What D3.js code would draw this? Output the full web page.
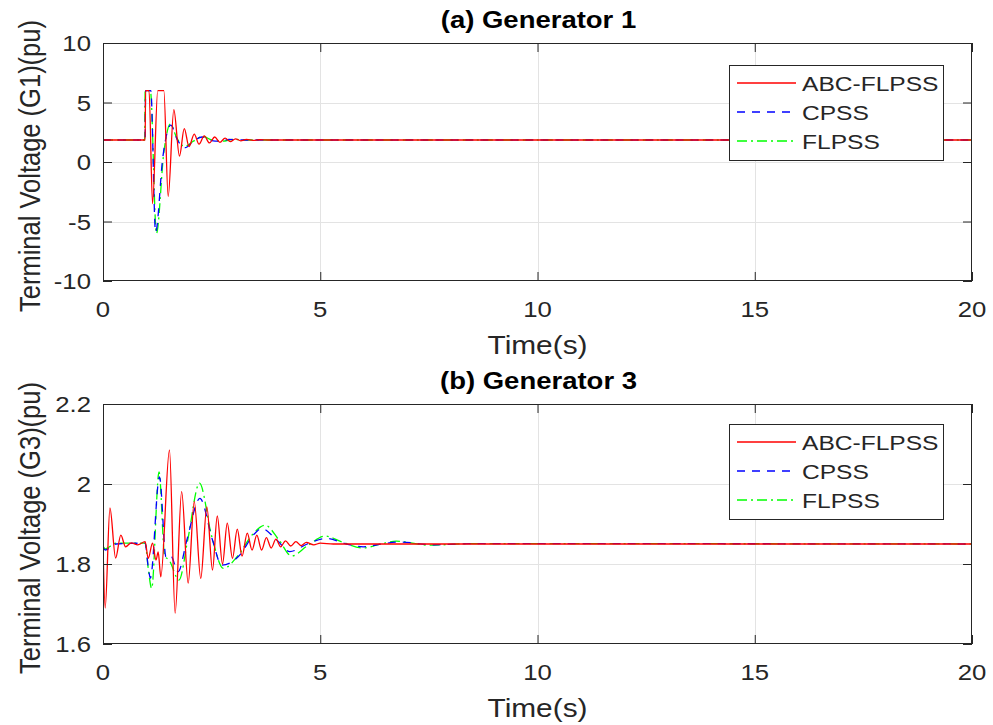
<!DOCTYPE html>
<html>
<head>
<meta charset="utf-8">
<script src="https://cdn.jsdelivr.net/npm/d3@7/dist/d3.min.js"></script>
<style>
  html, body { margin: 0; padding: 0; background: #fff; }
  svg { display: block; }
</style>
</head>
<body>
<svg id="chart" width="993" height="725"></svg>
<script>
const fontFamily = `"Liberation Sans", Arial, Helvetica, sans-serif`;
const width = 993;
const height = 725;
const textStretch = 1.17;
const axisColor = "#262626";
const gridColor = "#e3e3e3";

// ---- data (time in s, terminal voltage in pu) ----
const xTicks = [0, 5, 10, 15, 20];
const g1Ticks = [-10, -5, 0, 5, 10];
const g3Ticks = [1.6, 1.8, 2, 2.2];

const seriesNames = ["ABC-FLPSS", "CPSS", "FLPSS"];

const g1Abc = [
  [0, 1.85], [0.97, 1.85], [0.98, 6], [1.06, 6], [1.14, -3.5], [1.26, 6],
  [1.4, 6], [1.5, -2.9], [1.63, 4.4], [1.76, 0.5], [1.87, 2.8], [1.98, 1.3],
  [2.1, 2.35], [2.21, 1.5], [2.33, 2.2], [2.45, 1.6], [2.57, 2.1], [2.69, 1.65],
  [2.81, 2.0], [2.93, 1.72], [3.05, 1.95], [3.17, 1.78], [3.3, 1.9],
  [3.45, 1.82], [3.6, 1.87], [3.8, 1.85], [20, 1.85],
];
const g1Cpss = [
  [0, 1.85], [0.97, 1.85], [0.98, 6], [1.1, 6], [1.21, -5.9], [1.38, 0.5],
  [1.56, 3.1], [1.72, 1.8], [1.89, 1.2], [2.1, 1.8], [2.28, 2.1], [2.5, 1.8],
  [2.7, 1.75], [2.9, 1.9], [3.2, 1.85], [20, 1.85],
];
const g1Flpss = [
  [0, 1.85], [0.96, 1.85], [0.97, 6], [1.09, 6], [1.23, -6.0], [1.4, 0.8],
  [1.55, 3.2], [1.7, 2.0], [1.88, 1.3], [2.08, 1.75], [2.3, 2.15], [2.5, 1.85],
  [2.75, 1.75], [3.0, 1.9], [3.3, 1.85], [20, 1.85],
];

const g3Abc = [
  [0, 1.85], [0.05, 1.69], [0.16, 1.94], [0.29, 1.815], [0.41, 1.872],
  [0.52, 1.843], [0.65, 1.853], [0.8, 1.848], [0.97, 1.856], [1.04, 1.814],
  [1.14, 1.852], [1.22, 1.81], [1.27, 1.83], [1.33, 1.768], [1.53, 2.085],
  [1.66, 1.677], [1.81, 1.981], [1.96, 1.752], [2.1, 1.956], [2.25, 1.764],
  [2.39, 1.943], [2.52, 1.785], [2.63, 1.92], [2.75, 1.8], [2.86, 1.902],
  [2.98, 1.814], [3.09, 1.887], [3.2, 1.82], [3.32, 1.877], [3.43, 1.835],
  [3.54, 1.872], [3.65, 1.835], [3.76, 1.866], [3.87, 1.84], [3.98, 1.862],
  [4.09, 1.843], [4.2, 1.858], [4.32, 1.845], [4.44, 1.856], [4.56, 1.846],
  [4.68, 1.854], [4.85, 1.848], [5.0, 1.852], [5.3, 1.85], [20, 1.85],
];
const g3Cpss = [
  [0, 1.843], [0.05, 1.835], [0.3, 1.85], [0.97, 1.852], [1.04, 1.793],
  [1.09, 1.765], [1.3, 2.018], [1.45, 1.818], [1.55, 1.822], [1.73, 1.781],
  [1.93, 1.86], [2.23, 1.964], [2.52, 1.86], [2.73, 1.797], [3.11, 1.818],
  [3.5, 1.877], [3.65, 1.889], [4.0, 1.86], [4.3, 1.831], [4.7, 1.85],
  [5.15, 1.864], [5.6, 1.85], [5.99, 1.843], [6.4, 1.85], [6.84, 1.855],
  [7.6, 1.848], [8.5, 1.851], [20, 1.85],
];
const g3Flpss = [
  [0, 1.845], [0.05, 1.838], [0.3, 1.852], [0.97, 1.852], [1.04, 1.79],
  [1.12, 1.739], [1.29, 2.03], [1.42, 1.82], [1.52, 1.81], [1.75, 1.76],
  [1.95, 1.86], [2.22, 2.002], [2.5, 1.87], [2.77, 1.789], [3.1, 1.82],
  [3.45, 1.875], [3.73, 1.897], [4.05, 1.86], [4.34, 1.82], [4.7, 1.845],
  [5.11, 1.87], [5.5, 1.855], [5.99, 1.84], [6.4, 1.85], [6.75, 1.857],
  [7.5, 1.847], [8.5, 1.851], [20, 1.85],
];

const seriesStyles = [
  { color: "#ff0000", dash: null },
  { color: "#0000ff", dash: "8,7" },
  { color: "#00ff00", dash: "10,4,2,4" },
];

const panels = [
  {
    title: "(a) Generator 1",
    ylabel: "Terminal Voltage (G1)(pu)",
    top: 43, bottom: 281,
    yDomain: [-10, 10], yTicks: g1Ticks,
    series: [g1Abc, g1Cpss, g1Flpss],
    legendTop: 65,
  },
  {
    title: "(b) Generator 3",
    ylabel: "Terminal Voltage (G3)(pu)",
    top: 404, bottom: 644,
    yDomain: [1.6, 2.2], yTicks: g3Ticks,
    series: [g3Abc, g3Cpss, g3Flpss],
    legendTop: 424,
  },
];

const left = 103;
const right = 972;

const svg = d3.select("#chart")
  .attr("font-family", fontFamily);

svg.append("rect")
  .attr("width", width)
  .attr("height", height)
  .attr("fill", "#fff");

const x = d3.scaleLinear().domain([0, 20]).range([left, right]);

panels.forEach((p, i) => renderPanel(p, i));

function stretched(sel, tx, ty, rotate) {
  sel.attr("transform", `translate(${tx},${ty}) scale(${textStretch},1)` +
    (rotate ? ` rotate(${rotate})` : ""));
  return sel;
}

function renderPanel(p, i) {
  const y = d3.scaleLinear().domain(p.yDomain).range([p.bottom, p.top]);
  const g = svg.append("g").attr("id", `panel-${i}`);
  const clipId = `clip-${i}`;

  g.append("clipPath")
    .attr("id", clipId)
    .append("rect")
    .attr("x", left)
    .attr("y", p.top)
    .attr("width", right - left)
    .attr("height", p.bottom - p.top);

  // grid
  const grid = g.append("g").attr("stroke", gridColor).attr("stroke-width", 1);
  grid.selectAll(".gx")
    .data(xTicks.slice(1, -1))
    .enter()
    .append("line")
    .attr("x1", (d) => Math.round(x(d)) + 0.5)
    .attr("x2", (d) => Math.round(x(d)) + 0.5)
    .attr("y1", p.top)
    .attr("y2", p.bottom);
  grid.selectAll(".gy")
    .data(p.yTicks.slice(1, -1))
    .enter()
    .append("line")
    .attr("x1", left)
    .attr("x2", right)
    .attr("y1", (d) => Math.round(y(d)) + 0.5)
    .attr("y2", (d) => Math.round(y(d)) + 0.5);

  // lines
  const line = d3.line()
    .x((d) => x(d[0]))
    .y((d) => y(d[1]))
    .curve(d3.curveMonotoneX);

  const lines = g.append("g").attr("clip-path", `url(#${clipId})`);
  p.series.slice().reverse().forEach((data, k) => {
    const s = seriesStyles[p.series.length - 1 - k];
    lines.append("path")
      .datum(data)
      .attr("fill", "none")
      .attr("stroke", s.color)
      .attr("stroke-width", 1.3)
      .attr("stroke-dasharray", s.dash)
      .attr("d", line);
  });

  // axes (ticks inward, on all four sides)
  const tickLen = 9;
  const axisStyle = (sel) => {
    sel.select(".domain").remove();
    sel.selectAll(".tick line").attr("stroke", axisColor);
    sel.selectAll(".tick text").remove();
  };
  g.append("g")
    .attr("transform", `translate(0,${p.bottom})`)
    .call(d3.axisBottom(x).tickValues(xTicks).tickSize(-tickLen))
    .call(axisStyle);
  g.append("g")
    .attr("transform", `translate(0,${p.top})`)
    .call(d3.axisTop(x).tickValues(xTicks).tickSize(-tickLen))
    .call(axisStyle);
  g.append("g")
    .attr("transform", `translate(${left},0)`)
    .call(d3.axisLeft(y).tickValues(p.yTicks).tickSize(-tickLen))
    .call(axisStyle);
  g.append("g")
    .attr("transform", `translate(${right},0)`)
    .call(d3.axisRight(y).tickValues(p.yTicks).tickSize(-tickLen))
    .call(axisStyle);

  g.append("rect")
    .attr("x", left + 0.5)
    .attr("y", p.top + 0.5)
    .attr("width", right - left - 1)
    .attr("height", p.bottom - p.top - 1)
    .attr("fill", "none")
    .attr("stroke", axisColor)
    .attr("stroke-width", 1);

  // tick labels
  const labels = g.append("g")
    .attr("fill", axisColor)
    .attr("font-size", 22);
  labels.selectAll(".xl")
    .data(xTicks)
    .enter()
    .append("text")
    .attr("text-anchor", "middle")
    .each(function (d) {
      stretched(d3.select(this), x(d), p.bottom + 36);
    })
    .text((d) => d);
  labels.selectAll(".yl")
    .data(p.yTicks)
    .enter()
    .append("text")
    .attr("text-anchor", "end")
    .each(function (d) {
      stretched(d3.select(this), left - 12, y(d) + 8);
    })
    .text((d) => (Number.isInteger(d) ? d : d.toFixed(1)));

  // axis titles
  stretched(
    g.append("text")
      .attr("text-anchor", "middle")
      .attr("fill", axisColor)
      .attr("font-size", 25.5)
      .text("Time(s)"),
    (left + right) / 2, p.bottom + 73);

  stretched(
    g.append("text")
      .attr("text-anchor", "middle")
      .attr("fill", axisColor)
      .attr("font-size", 25.5)
      .text(p.ylabel),
    40, (p.top + p.bottom) / 2 + 4, -90);

  stretched(
    g.append("text")
      .attr("text-anchor", "middle")
      .attr("fill", "#000")
      .attr("font-weight", "bold")
      .attr("font-size", 23.5)
      .text(p.title),
    (left + right) / 2 + 1, p.top - 15);

  renderLegend(g, p.legendTop);
}

function renderLegend(g, top) {
  const lx = 729;
  const lw = 214;
  const lh = 95;
  const legend = g.append("g").attr("id", "legend");

  legend.append("rect")
    .attr("x", lx + 0.5)
    .attr("y", top + 0.5)
    .attr("width", lw)
    .attr("height", lh)
    .attr("fill", "#fff")
    .attr("stroke", axisColor)
    .attr("stroke-width", 1);

  const rowY = [18, 47, 76];
  const rows = legend.selectAll(".legend-row")
    .data(seriesNames)
    .enter()
    .append("g")
    .classed("legend-row", true)
    .attr("transform", (d, i) => `translate(${lx}, ${top + rowY[i]})`);

  rows.append("line")
    .attr("x1", 8)
    .attr("x2", 67)
    .attr("y1", 0)
    .attr("y2", 0)
    .attr("stroke", (d, i) => seriesStyles[i].color)
    .attr("stroke-width", 1.3)
    .attr("stroke-dasharray", (d, i) => seriesStyles[i].dash);

  rows.append("text")
    .attr("fill", axisColor)
    .attr("font-size", 21)
    .each(function () {
      stretched(d3.select(this), 73, 7.5);
    })
    .text((d) => d);
}
</script>
</body>
</html>
